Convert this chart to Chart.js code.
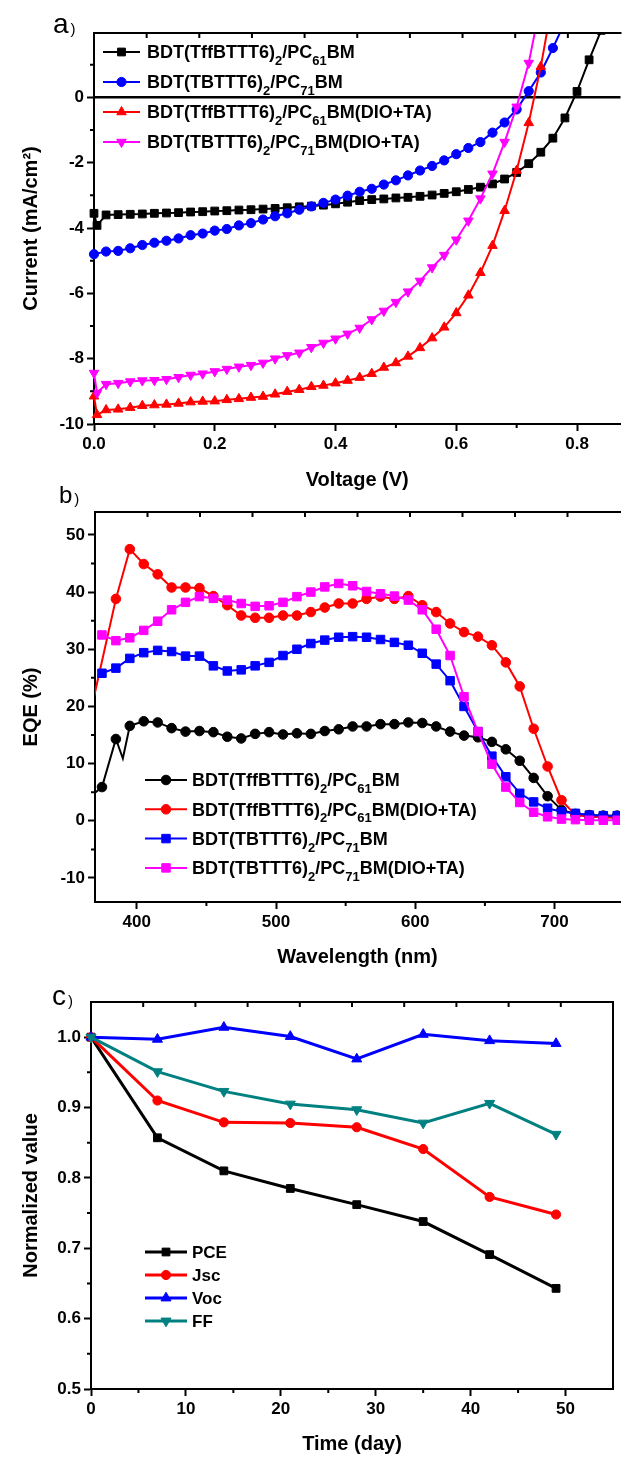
<!DOCTYPE html>
<html>
<head>
<meta charset="utf-8">
<title>BDT small-molecule solar cells</title>
<script src="https://cdn.jsdelivr.net/npm/chart.js@4.4.1/dist/chart.umd.min.js"></script>
<style>
  html, body { margin: 0; padding: 0; background: #fff; }
  body { width: 627px; height: 1457px; position: relative; overflow: hidden; }
  canvas { position: absolute; left: 0; }
  #jv { top: 0; width: 627px; height: 500px; }
  #eqe { top: 482px; width: 627px; height: 493px; }
  #life { top: 965px; width: 627px; height: 492px; }
</style>
</head>
<body>
<canvas id="jv" width="627" height="500"></canvas>
<canvas id="eqe" width="627" height="493"></canvas>
<canvas id="life" width="627" height="492"></canvas>
<script>
// ---- a) J-V curves, mA/cm2 on a common voltage grid (V)
const volts = [0, 0.005, 0.02, 0.04, 0.06, 0.08, 0.10, 0.12, 0.14, 0.16, 0.18, 0.20,
  0.22, 0.24, 0.26, 0.28, 0.30, 0.32, 0.34, 0.36, 0.38, 0.40,
  0.42, 0.44, 0.46, 0.48, 0.50, 0.52, 0.54, 0.56, 0.58, 0.60,
  0.62, 0.64, 0.66, 0.68, 0.70, 0.72, 0.74, 0.76, 0.78, 0.80, 0.82, 0.84];
const jvTff61 = [-3.55, -3.92, -3.60, -3.59, -3.58, -3.57, -3.55, -3.54, -3.53, -3.51, -3.50, -3.48,
  -3.47, -3.45, -3.44, -3.42, -3.40, -3.38, -3.35, -3.33, -3.30, -3.26,
  -3.21, -3.16, -3.13, -3.11, -3.08, -3.06, -3.03, -2.99, -2.94, -2.89,
  -2.82, -2.75, -2.65, -2.50, -2.30, -2.03, -1.68, -1.25, -0.63, 0.18, 1.15, 2.05];
const jvTb71 = [-4.80, null, -4.72, -4.70, -4.62, -4.52, -4.45, -4.39, -4.32, -4.22, -4.17, -4.08,
  -4.03, -3.92, -3.85, -3.74, -3.64, -3.55, -3.44, -3.34, -3.23, -3.13,
  -3.01, -2.89, -2.80, -2.67, -2.54, -2.39, -2.24, -2.10, -1.93, -1.74,
  -1.55, -1.37, -1.08, -0.77, -0.37, 0.19, 0.76, 1.51, 2.30, null, null, null];
const jvTff61Add = [-9.15, -9.72, -9.57, -9.55, -9.50, -9.44, -9.42, -9.40, -9.37, -9.33, -9.31, -9.30,
  -9.26, -9.23, -9.19, -9.16, -9.09, -9.01, -8.95, -8.86, -8.82, -8.75,
  -8.67, -8.58, -8.46, -8.27, -8.13, -7.93, -7.67, -7.37, -7.04, -6.60,
  -6.06, -5.37, -4.54, -3.47, -2.24, -0.78, 0.94, 3.00, null, null, null, null];
const jvTb71Add = [-8.44, -9.05, -8.78, -8.75, -8.70, -8.67, -8.66, -8.63, -8.57, -8.50, -8.46, -8.39,
  -8.32, -8.25, -8.20, -8.13, -8.00, -7.90, -7.82, -7.65, -7.52, -7.39,
  -7.24, -7.06, -6.80, -6.54, -6.27, -5.95, -5.62, -5.21, -4.83, -4.36,
  -3.78, -3.10, -2.34, -1.37, -0.29, 1.05, 2.90, null, null, null, null, null];
const voltTicks = [0, 0.2, 0.4, 0.6, 0.8];
const currentTicks = [-10, -8, -6, -4, -2, 0];

// ---- b) EQE spectra (%)
const wavelengths = [365, 375, 385, 390, 395, 405, 415, 425, 435, 445, 455, 465, 475, 485,
  495, 505, 515, 525, 535, 545, 555, 565, 575, 585, 595, 605, 615, 625, 635, 645,
  655, 665, 675, 685, 695, 705, 715, 725, 735, 745];
const eqeTff61 = [3.9, 5.9, 14.3, 10.9, 16.6, 17.4, 17.2, 16.2, 15.6, 15.7, 15.5, 14.7, 14.4, 15.2,
  15.5, 15.1, 15.3, 15.2, 15.7, 16.0, 16.5, 16.5, 16.9, 16.9, 17.2, 17.1, 16.5, 15.6, 14.9, 14.6,
  13.8, 12.5, 10.5, 7.5, 4.3, 1.9, 1.2, 1.0, 0.9, 0.9];
const eqeTff61Add = [17.0, null, 38.8, null, 47.5, 44.9, 43.1, 40.8, 40.8, 40.7, 39.3, 37.7, 35.9, 35.5,
  35.5, 35.9, 35.9, 36.5, 37.3, 38.0, 38.0, 38.8, 39.2, 38.8, 39.3, 37.7, 36.5, 34.5, 33.0, 32.2,
  30.7, 27.7, 23.5, 16.1, 9.5, 3.6, 1.0, 0.7, 0.6, 0.5];
const eqeTb71 = [null, 25.8, 26.7, null, 28.4, 29.4, 29.8, 29.6, 28.8, 28.8, 27.1, 26.2, 26.4, 27.1,
  27.7, 28.9, 30.0, 31.0, 31.6, 32.1, 32.2, 32.1, 31.7, 31.2, 30.7, 29.3, 27.4, 24.5, 20.0, 15.6,
  11.3, 7.7, 4.8, 3.3, 2.2, 1.6, 1.3, 1.0, 0.9, 0.9];
const eqeTb71Add = [null, 32.5, 31.5, null, 32.0, 33.3, 34.9, 36.9, 38.2, 39.2, 38.9, 38.6, 38.0, 37.5,
  37.6, 38.2, 39.2, 40.0, 40.9, 41.5, 41.1, 40.1, 39.7, 39.3, 38.6, 36.9, 33.5, 28.9, 21.7, 15.6,
  9.9, 5.9, 3.2, 1.5, 0.7, 0.3, 0.2, 0.1, 0.1, 0.1];
const nmTicks = [400, 500, 600, 700];
const eqeTicks = [-10, 0, 10, 20, 30, 40, 50];

// ---- c) stability, normalised to day 0
const days = [0, 7, 14, 21, 28, 35, 42, 49];
const pce = [1.0, 0.857, 0.810, 0.785, 0.762, 0.738, 0.691, 0.643];
const jsc = [1.0, 0.910, 0.879, 0.878, 0.872, 0.841, 0.773, 0.748];
const voc = [1.0, 0.997, 1.014, 1.001, 0.969, 1.004, 0.995, 0.991];
const ff = [1.0, 0.951, 0.923, 0.905, 0.897, 0.878, 0.906, 0.862];
const dayTicks = [0, 10, 20, 30, 40, 50];
const normTicks = [0.5, 0.6, 0.7, 0.8, 0.9, 1.0];

const FONT = '"Liberation Sans", Arial, Helvetica, sans-serif';
Chart.defaults.font.family = FONT;
Chart.defaults.color = '#000';

const SUBS = '₀₁₂₃₄₅₆₇₈₉';

// writes a label, setting subscript digits smaller and lower
function richText(ctx, text, x, y, size, subSize, drop) {
  let run = '', sub = false;
  const flush = () => {
    if (!run) return;
    ctx.font = `bold ${sub ? subSize : size}px ${FONT}`;
    ctx.fillText(run, x, sub ? y + drop : y);
    x += ctx.measureText(run).width;
    run = '';
  };
  for (const ch of text) {
    const k = SUBS.indexOf(ch);
    if ((k >= 0) !== sub) { flush(); sub = k >= 0; }
    run += k >= 0 ? String(k) : ch;
  }
  flush();
}

// legend symbol, same shapes as the plotted points
function symbol(ctx, style, r, rot, x, y) {
  if (Chart.helpers && Chart.helpers.drawPoint) {
    Chart.helpers.drawPoint(ctx, { pointStyle: style, rotation: rot, radius: r, borderWidth: 1 }, x, y);
    return;
  }
  ctx.beginPath();
  ctx.arc(x, y, r, 0, Math.PI * 2);
  ctx.fill();
}

// frame, minor ticks, panel tag and the legend
const decor = {
  id: 'decor',
  beforeDatasetsDraw(chart, args, o) {
    if (!o.zeroLine) return;
    const { ctx, chartArea: a, scales: { y } } = chart;
    const py = y.getPixelForValue(0);
    ctx.save();
    ctx.strokeStyle = '#000';
    ctx.lineWidth = 2.5;
    ctx.beginPath();
    ctx.moveTo(a.left, py);
    ctx.lineTo(a.right, py);
    ctx.stroke();
    ctx.restore();
  },
  afterDatasetsDraw(chart, args, o) {
    const { ctx, chartArea: a, scales: { x, y } } = chart;
    ctx.save();
    ctx.strokeStyle = '#000';
    ctx.lineWidth = 2;
    ctx.beginPath();
    ctx.moveTo(a.left - 1, a.top);
    ctx.lineTo(a.right + 1, a.top);
    if (o.rightEdge) {
      ctx.moveTo(a.right, a.top);
      ctx.lineTo(a.right, a.bottom + 1);
    }
    for (let k = 1; k < 10; k++) {
      const px = a.left + (a.right - a.left) * k / 10;
      ctx.moveTo(px, a.top);
      ctx.lineTo(px, a.top + 5);
    }
    o.minorX.forEach(v => {
      const px = x.getPixelForValue(v);
      ctx.moveTo(px, a.bottom);
      ctx.lineTo(px, a.bottom + 4);
    });
    o.minorY.forEach(v => {
      const py = y.getPixelForValue(v);
      ctx.moveTo(a.left, py);
      ctx.lineTo(a.left - 4, py);
    });
    ctx.stroke();

    ctx.fillStyle = '#000';
    ctx.textAlign = 'left';
    ctx.textBaseline = 'alphabetic';
    ctx.font = `${o.tag.size}px ${FONT}`;
    ctx.fillText(o.tag.text, o.tag.x, o.tag.y);
    const w = ctx.measureText(o.tag.text).width;
    ctx.font = `15px ${FONT}`;
    ctx.fillText(')', o.tag.x + w + 2, o.tag.y + 1);

    const L = o.legend;
    chart.data.datasets.forEach((ds, i) => {
      const cy = a.top + L.top + i * L.gap;
      const x0 = a.left + L.left;
      ctx.strokeStyle = ds.borderColor;
      ctx.lineWidth = ds.borderWidth;
      ctx.beginPath();
      ctx.moveTo(x0, cy);
      ctx.lineTo(x0 + L.line, cy);
      ctx.stroke();
      ctx.fillStyle = ds.backgroundColor;
      ctx.lineWidth = 1;
      symbol(ctx, ds.pointStyle, ds.symbolSize, ds.pointRotation, x0 + L.line / 2, cy);
      ctx.fillStyle = '#000';
      richText(ctx, ds.label, x0 + L.line + L.pad, cy + L.size * 0.36, L.size, L.subSize, L.drop);
    });
    ctx.restore();
  }
};
Chart.register(decor);

const pairs = (xs, ys) => xs.map((x, i) => ({ x, y: ys[i] }));

function series(label, xs, ys, color, style, size, width, rotation, idx, count, clip) {
  return {
    label, data: pairs(xs, ys),
    borderColor: color, backgroundColor: color,
    pointBackgroundColor: color, pointBorderColor: color,
    pointStyle: style, pointRadius: size, pointRotation: rotation || 0,
    pointBorderWidth: 1, symbolSize: size,
    borderWidth: width, tension: 0, spanGaps: true,
    order: count - 1 - idx, clip
  };
}

function axes(o) {
  return {
    x: {
      type: 'linear', position: 'bottom', min: o.xMin, max: o.xMax,
      afterBuildTicks: s => { s.ticks = o.xTicks.map(value => ({ value })); },
      afterFit: s => { s.height = o.xHeight; },
      border: { color: '#000', width: 2 },
      grid: { drawOnChartArea: false, color: '#000', tickLength: 7, tickWidth: 2 },
      ticks: { color: '#000', font: { size: 17, weight: 'bold' }, padding: 3, maxRotation: 0, autoSkip: false, callback: o.xFmt },
      title: { display: true, text: o.xTitle, color: '#000', font: { size: 20, weight: 'bold' }, padding: { top: 0, bottom: o.xTitlePad } }
    },
    y: {
      type: 'linear', position: 'left', min: o.yMin, max: o.yMax,
      afterBuildTicks: s => { s.ticks = o.yTicks.map(value => ({ value })); },
      afterFit: s => { s.width = o.yWidth; },
      border: { color: '#000', width: 2 },
      grid: { drawOnChartArea: false, color: '#000', tickLength: 7, tickWidth: 2 },
      ticks: { color: '#000', font: { size: 17, weight: 'bold' }, padding: 3, autoSkip: false, callback: o.yFmt },
      title: { display: true, text: o.yTitle, color: '#000', font: { size: 20, weight: 'bold' }, padding: { top: 19, bottom: 0 } }
    }
  };
}

function baseOptions(pad, scales, decorOpts) {
  return {
    responsive: false, animation: false, devicePixelRatio: 1, events: [],
    layout: { padding: pad },
    scales,
    plugins: { legend: { display: false }, tooltip: { enabled: false }, decor: decorOpts }
  };
}

// a) J-V
const jvSets = [
  ['BDT(TffBTTT6)₂/PC₆₁BM', jvTff61, '#000000', 'rect', 5.5, 0],
  ['BDT(TBTTT6)₂/PC₇₁BM', jvTb71, '#0000ff', 'circle', 4.6, 0],
  ['BDT(TffBTTT6)₂/PC₆₁BM(DIO+TA)', jvTff61Add, '#ff0000', 'triangle', 5.5, 0],
  ['BDT(TBTTT6)₂/PC₇₁BM(DIO+TA)', jvTb71Add, '#ff00ff', 'triangle', 5.5, 180]
];
new Chart(document.getElementById('jv'), {
  type: 'line',
  data: {
    datasets: jvSets.map((s, i) => series(s[0], volts, s[1], s[2], s[3], s[4], 2, s[5], i, jvSets.length,
      { left: 6, top: 0, right: 0, bottom: 6 }))
  },
  options: baseOptions({ top: 33, right: 0, bottom: 0, left: 0 }, axes({
    xMin: 0, xMax: 0.872, xTicks: voltTicks, xHeight: 76, xTitle: 'Voltage (V)', xTitlePad: 8,
    xFmt: v => v.toFixed(1),
    yMin: -10, yMax: 1.97, yTicks: currentTicks, yWidth: 94, yTitle: 'Current (mA/cm²)',
    yFmt: v => String(v)
  }), {
    zeroLine: true, rightEdge: false,
    minorX: [0.1, 0.3, 0.5, 0.7], minorY: [-9, -7, -5, -3, -1, 1],
    tag: { text: 'a', x: 53, y: 33, size: 28 },
    legend: { left: 9, top: 19, gap: 30, line: 37, pad: 7, size: 18, subSize: 13, drop: 6.5 }
  })
});

// b) EQE
const eqeSets = [
  ['BDT(TffBTTT6)₂/PC₆₁BM', eqeTff61, '#000000', 'circle', 4.8],
  ['BDT(TffBTTT6)₂/PC₆₁BM(DIO+TA)', eqeTff61Add, '#ff0000', 'circle', 4.8],
  ['BDT(TBTTT6)₂/PC₇₁BM', eqeTb71, '#0000ff', 'rect', 6],
  ['BDT(TBTTT6)₂/PC₇₁BM(DIO+TA)', eqeTb71Add, '#ff00ff', 'rect', 6]
];
const eqeData = eqeSets.map((s, i) => series(s[0], wavelengths, s[1], s[2], s[3], s[4], 2, 0, i, eqeSets.length, 0));
// the 390 nm reading of the first spectrum carries no symbol
eqeData[0].pointRadius = c => (c.raw && c.raw.x % 10 === 0 ? 0 : 4.8);
new Chart(document.getElementById('eqe'), {
  type: 'line',
  data: { datasets: eqeData },
  options: baseOptions({ top: 30, right: 0, bottom: 0, left: 0 }, axes({
    xMin: 370, xMax: 747, xTicks: nmTicks, xHeight: 73, xTitle: 'Wavelength (nm)', xTitlePad: 6,
    xFmt: v => String(v),
    yMin: -14.2, yMax: 54, yTicks: eqeTicks, yWidth: 95, yTitle: 'EQE (%)',
    yFmt: v => String(v)
  }), {
    zeroLine: false, rightEdge: false,
    minorX: [450, 550, 650], minorY: [-5, 5, 15, 25, 35, 45],
    tag: { text: 'b', x: 59, y: 21, size: 24 },
    legend: { left: 50, top: 268, gap: 29.3, line: 42, pad: 5, size: 18, subSize: 13, drop: 6.5 }
  })
});

// c) stability over time
const lifeSets = [
  ['PCE', pce, '#000000', 'rect', 5.5, 0],
  ['Jsc', jsc, '#ff0000', 'circle', 4.6, 0],
  ['Voc', voc, '#0000ff', 'triangle', 5.8, 0],
  ['FF', ff, '#008080', 'triangle', 5.8, 180]
];
new Chart(document.getElementById('life'), {
  type: 'line',
  data: {
    datasets: lifeSets.map((s, i) => series(s[0], days, s[1], s[2], s[3], s[4], 3, s[5], i, lifeSets.length, false))
  },
  options: baseOptions({ top: 37, right: 14, bottom: 0, left: 0 }, axes({
    xMin: 0, xMax: 55, xTicks: dayTicks, xHeight: 68, xTitle: 'Time (day)', xTitlePad: 1,
    xFmt: v => String(v),
    yMin: 0.5, yMax: 1.05, yTicks: normTicks, yWidth: 91, yTitle: 'Normalized value',
    yFmt: v => v.toFixed(1)
  }), {
    zeroLine: false, rightEdge: true,
    minorX: [5, 15, 25, 35, 45], minorY: [0.55, 0.65, 0.75, 0.85, 0.95],
    tag: { text: 'c', x: 52, y: 40, size: 28 },
    legend: { left: 54, top: 250, gap: 23, line: 42, pad: 5, size: 17, subSize: 12, drop: 6 }
  })
});
</script>
</body>
</html>
